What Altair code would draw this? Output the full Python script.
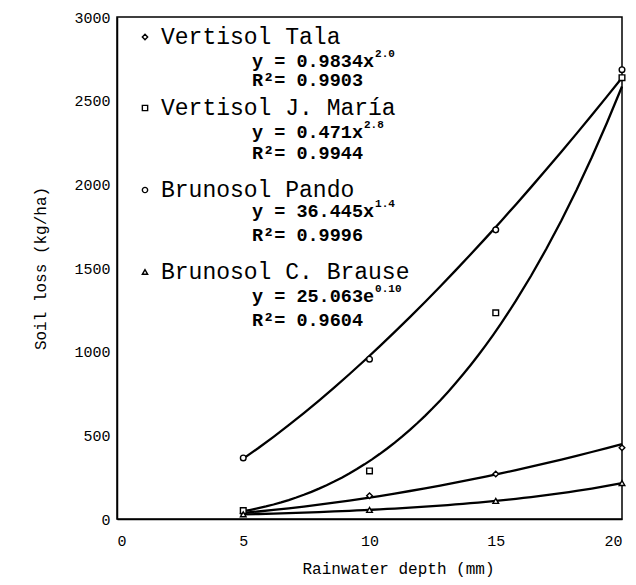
import altair as alt
import pandas as pd

# ---- data ----
rain = [5, 10, 15, 20]
tala = [35, 139, 269, 426]
maria = [50, 287, 1232, 2637]
pando = [365, 955, 1728, 2685]
brause = [28, 54, 108, 215]

series_names = ["Vertisol Tala", "Vertisol J. María", "Brunosol Pando", "Brunosol C. Brause"]
series_shapes = ["diamond", "square", "circle", "triangle-up"]
equations = ["y = 0.9834x", "y = 0.471x", "y = 36.445x", "y = 25.063e"]
exponents = ["2.0", "2.8", "1.4", "0.10"]
r_squared = ["R²= 0.9903", "R²= 0.9944", "R²= 0.9996", "R²= 0.9604"]

x_ticks = [0, 5, 10, 15, 20]
y_ticks = [0, 500, 1000, 1500, 2000, 2500, 3000]

# ---- tables ----
rows = []
for name, vals in zip(series_names, [tala, maria, pando, brause]):
    for xv, yv in zip(rain, vals):
        rows.append({"series": name, "x": xv, "y": yv})
df = pd.DataFrame(rows)

FONT = "Liberation Mono"
W, H = 505, 502

# annotation layout (pixel positions inside the plot area)
name_y = [20, 91, 173, 255]
eq_y = [44, 115, 194, 279]
r2_y = [63, 136, 218, 303]
marker_x, name_x, eq_x = 28, 44, 135
EQ_FS = 18.5
eq_char = EQ_FS * 0.6

names_df = pd.DataFrame({"text": series_names, "px": [name_x] * 4, "py": name_y})
marker_df = pd.DataFrame({"series": series_names, "px": [marker_x] * 4, "py": name_y})
eq_df = pd.DataFrame({"text": equations, "px": [eq_x] * 4, "py": eq_y})
exp_df = pd.DataFrame({
    "text": exponents,
    "px": [eq_x + len(e) * eq_char + 1 for e in equations],
    "py": [v - 7 for v in eq_y],
})
r2_df = pd.DataFrame({"text": r_squared, "px": [eq_x] * 4, "py": r2_y})

shape_scale = alt.Scale(domain=series_names, range=series_shapes)

xenc = alt.X("x:Q", scale=alt.Scale(domain=[0, 20], nice=False),
             axis=alt.Axis(values=x_ticks, title="Rainwater depth (mm)", ticks=False, format="d",
                           labelPadding=14, titleX=281, titleY=49, titleBaseline="middle",
                           titleAlign="center"))
yenc = alt.Y("y:Q", scale=alt.Scale(domain=[0, 3000], nice=False),
             axis=alt.Axis(values=y_ticks, title="Soil loss (kg/ha)", ticks=False, format="d",
                           labelPadding=7, titleX=-77, titleY=H / 2, titleAngle=-90,
                           titleBaseline="middle", titleAlign="center"))

base = alt.Chart(df)

curves_pow = base.transform_filter(
    alt.FieldOneOfPredicate(field="series", oneOf=series_names[:3])
).transform_regression("x", "y", method="pow", groupby=["series"], extent=[5, 20]
).mark_line(color="black", strokeWidth=2.3).encode(x=xenc, y=yenc, detail="series:N")

curves_exp = base.transform_filter(
    alt.FieldEqualPredicate(field="series", equal=series_names[3])
).transform_regression("x", "y", method="exp", groupby=["series"], extent=[5, 20]
).mark_line(color="black", strokeWidth=2.3).encode(x="x:Q", y="y:Q", detail="series:N")

points = base.mark_point(filled=False, fill="white", fillOpacity=1, color="black",
                         strokeWidth=1.4, size=32).encode(
    x="x:Q", y="y:Q",
    shape=alt.Shape("series:N", scale=shape_scale, legend=None),
)

px = alt.X("px:Q", scale=None)
py = alt.Y("py:Q", scale=None)

legend_marks = alt.Chart(marker_df).mark_point(filled=False, fill="white", fillOpacity=1,
                                               color="black", strokeWidth=1.4, size=28).encode(
    x=px, y=py, shape=alt.Shape("series:N", scale=shape_scale, legend=None))

names_txt = alt.Chart(names_df).mark_text(font=FONT, fontSize=23, align="left",
                                          baseline="middle", color="black").encode(
    x=px, y=py, text="text:N")
eq_txt = alt.Chart(eq_df).mark_text(font=FONT, fontSize=EQ_FS, fontWeight="bold", align="left",
                                    baseline="middle", color="black").encode(
    x=px, y=py, text="text:N")
exp_txt = alt.Chart(exp_df).mark_text(font=FONT, fontSize=11, fontWeight="bold", align="left",
                                      baseline="middle", color="black").encode(
    x=px, y=py, text="text:N")
r2_txt = alt.Chart(r2_df).mark_text(font=FONT, fontSize=EQ_FS, fontWeight="bold", align="left",
                                    baseline="middle", color="black").encode(
    x=px, y=py, text="text:N")

chart = alt.layer(
    curves_pow, curves_exp, points, legend_marks, names_txt, eq_txt, exp_txt, r2_txt
).properties(
    width=W, height=H,
    background="white",
    autosize=alt.AutoSizeParams(type="none"),
    padding={"left": 109, "top": 9, "right": 6, "bottom": 58},
).configure_view(
    stroke="black", strokeWidth=1.5
).configure_axis(
    grid=False, domainColor="black", domainWidth=1.5,
    labelFont=FONT, labelFontSize=15, labelColor="black",
    titleFont=FONT, titleFontSize=16, titleFontWeight="normal", titleColor="black",
)

chart.save("out.html", embed_options={"renderer": "svg", "actions": False})
